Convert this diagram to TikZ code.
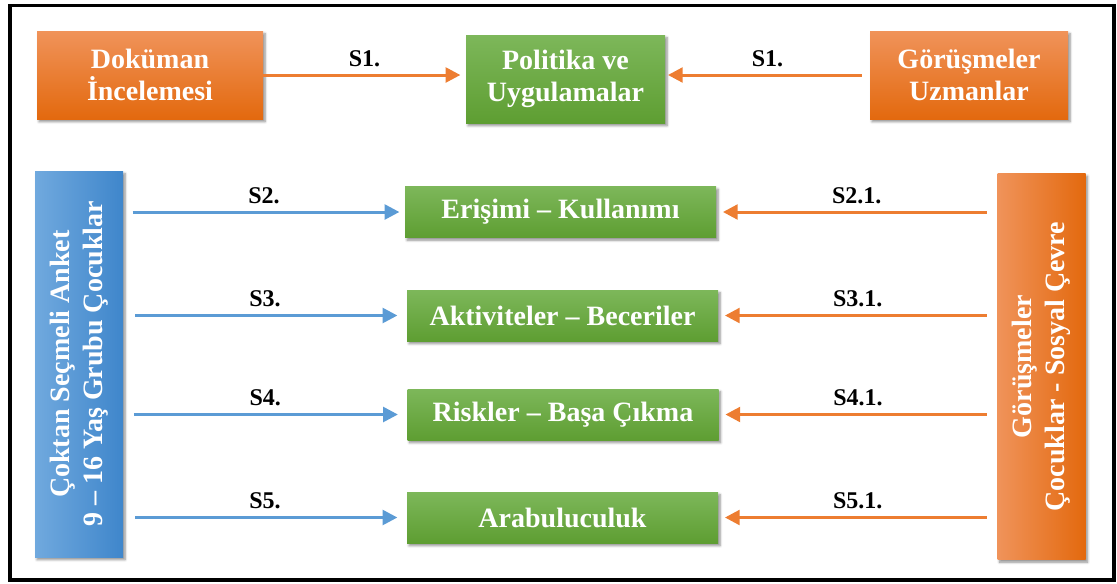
\documentclass[tikz,border=0pt]{standalone}
\usepackage{fontspec}
\setmainfont{Liberation Serif}
\usetikzlibrary{arrows.meta,shadows.blur}

\definecolor{orTop}{HTML}{F0935A}
\definecolor{orBot}{HTML}{E3690E}
\definecolor{grTop}{HTML}{7DB75A}
\definecolor{grBot}{HTML}{5E9E32}
\definecolor{blLeft}{HTML}{70A9DE}
\definecolor{blRight}{HTML}{3F86CB}
\definecolor{arrOr}{HTML}{ED7D31}
\definecolor{arrBl}{HTML}{5B9BD5}

\tikzset{
	box/.style={inner sep=0pt, align=center, text=white, font=\fontsize{21}{24}\selectfont\bfseries,
		blur shadow={shadow xshift=1.5pt, shadow yshift=-2pt, shadow blur steps=6, shadow opacity=45}},
	orbox/.style={box, top color=orTop, bottom color=orBot},
	grbox/.style={box, top color=grTop, bottom color=grBot},
	vbox/.style={box, rotate=90, minimum width=289.5pt, minimum height=66pt,
		font=\fontsize{21}{25}\selectfont\bfseries},
	oarr/.style={draw=arrOr, line width=2.25pt, -{Triangle[length=11pt, width=11pt]}},
	barr/.style={draw=arrBl, line width=2.25pt, -{Triangle[length=11pt, width=11pt]}},
	lbl/.style={font=\fontsize{18}{20}\selectfont\bfseries, above=2pt}
}

\begin{document}
\begin{tikzpicture}[x=0.75pt, y=-0.75pt]
	\path[use as bounding box] (0,0) rectangle (1117,583);
	\draw [line width=2.5pt] (10,5.5) rectangle (1114,580);

	% top row
	\node [orbox, minimum width=169.5pt, minimum height=66pt] (doc) at (150,75) {Doküman\\İncelemesi};
	\node [grbox, minimum width=149.25pt, minimum height=66pt] (pol) at (565.5,79) {Politika ve\\Uygulamalar};
	\node [orbox, minimum width=148.5pt, minimum height=66pt] (uzm) at (969,75) {Görüşmeler\\Uzmanlar};

	% side boxes
	\node [vbox, left color=blLeft, right color=blRight] (anket) at (79,364) {Çoktan Seçmeli Anket\\9 – 16 Yaş Grubu Çocuklar};
	\node [vbox, left color=orTop, right color=orBot] (gorus) at (1041.5,366.5) {Görüşmeler\\Çocuklar - Sosyal Çevre};

	% middle boxes
	\node [grbox, minimum width=233.25pt, minimum height=38.25pt] (eris) at (560.5,212) {Erişimi – Kullanımı};
	\node [grbox, minimum width=233.25pt, minimum height=38.25pt] (akt) at (562.5,315.5) {Aktiviteler – Beceriler};
	\node [grbox, minimum width=233.25pt, minimum height=38.25pt] (risk) at (563,414.5) {Riskler – Başa Çıkma};
	\node [grbox, minimum width=233.25pt, minimum height=38.25pt] (arab) at (562.5,517.5) {Arabuluculuk};

	% arrows
	\draw [oarr, shorten >=4pt] (doc.east) -- (doc.east -| pol.west) node [lbl, midway] {S1.};
	\draw [oarr, shorten <=6pt, shorten >=2pt] (uzm.west) -- (uzm.west -| pol.east) node [lbl, midway] {S1.};

	\draw [barr, shorten <=7pt, shorten >=4pt] (anket.south |- eris.west) -- (eris.west) node [lbl, midway] {S2.};
	\draw [barr, shorten <=9pt, shorten >=7pt] (anket.south |- akt.west) -- (akt.west) node [lbl, midway] {S3.};
	\draw [barr, shorten <=8pt, shorten >=7pt] (anket.south |- risk.west) -- (risk.west) node [lbl, midway] {S4.};
	\draw [barr, shorten <=9pt, shorten >=7pt] (anket.south |- arab.west) -- (arab.west) node [lbl, midway] {S5.};

	\draw [oarr, shorten <=8pt, shorten >=5pt] (gorus.north |- eris.east) -- (eris.east) node [lbl, midway] {S2.1.};
	\draw [oarr, shorten <=8pt, shorten >=5pt] (gorus.north |- akt.east) -- (akt.east) node [lbl, midway] {S3.1.};
	\draw [oarr, shorten <=8pt, shorten >=5pt] (gorus.north |- risk.east) -- (risk.east) node [lbl, midway] {S4.1.};
	\draw [oarr, shorten <=8pt, shorten >=5pt] (gorus.north |- arab.east) -- (arab.east) node [lbl, midway] {S5.1.};
\end{tikzpicture}
\end{document}
